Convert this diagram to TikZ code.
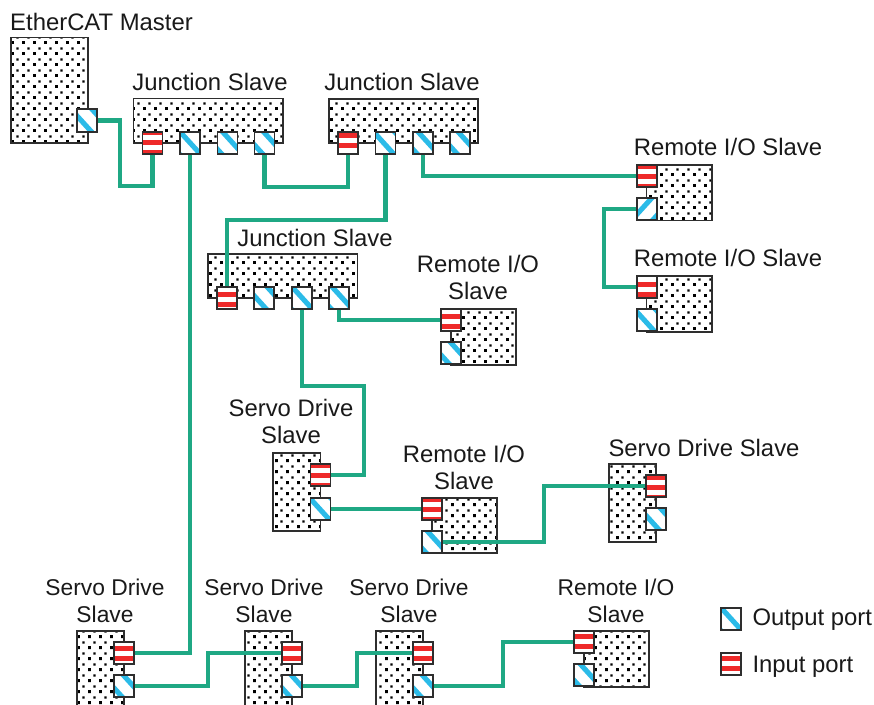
\documentclass[tikz,border=0pt]{standalone}
\usepackage{fontspec}
\setmainfont{Liberation Sans}
\usetikzlibrary{patterns,calc}
\definecolor{wirec}{HTML}{1FA884}
\definecolor{edgec}{HTML}{2E2E2E}
\definecolor{portred}{HTML}{EE2A2A}
\definecolor{portblue}{HTML}{2BBBE8}
\pgfdeclarepatternformonly{sdots}{\pgfqpoint{-1pt}{-1pt}}{\pgfqpoint{9pt}{9pt}}{\pgfqpoint{8.25pt}{8.25pt}}{%
  \pgfpathrectangle{\pgfqpoint{0pt}{0pt}}{\pgfqpoint{2.1pt}{2.1pt}}%
  \pgfpathrectangle{\pgfqpoint{4.1pt}{4.1pt}}{\pgfqpoint{1.6pt}{1.6pt}}%
  \pgfusepath{fill}}
\tikzset{
  bodybox/.style 2 args={draw=edgec,line width=1.2pt,pattern=sdots,inner sep=0pt,outer sep=0pt,
    minimum width=#1*0.75pt,minimum height=#2*0.75pt},
  portbase/.style={draw=edgec,fill=white,line width=1.3pt,inner sep=0pt,outer sep=0pt,
    minimum width=15pt,minimum height=16.9pt},
  inport/.style={portbase,path picture={
    \foreach \k in {-1,0,1,2,3}{
      \fill[portred] ($(path picture bounding box.north west)+(0,{#1+10*\k-2.5})$) rectangle
        ($(path picture bounding box.north west)+(20,{#1+10*\k+2.5})$);}}},
  outport/.style={portbase,path picture={
    \foreach \k in {-1,0,1}{
      \draw[portblue,line width=3.8pt] ($(path picture bounding box.north west)+({#1+21*\k-10},-11)$) --
        ($(path picture bounding box.north west)+({#1+21*\k+30},33)$);}}},
  outflip/.style={portbase,path picture={
    \foreach \k in {-1,0,1}{
      \draw[portblue,line width=3.8pt] ($(path picture bounding box.north east)+({-(#1+21*\k-10)},-11)$) --
        ($(path picture bounding box.north east)+({-(#1+21*\k+30)},33)$);}}},
  wire/.style={draw=wirec,line width=3.3pt},
  lab/.style={inner sep=0pt,outer sep=0pt,align=center,font=\fontsize{17.9}{20.2}\selectfont,text=black!90},
  labsmall/.style={lab,font=\fontsize{17.1}{20.2}\selectfont}
}
\begin{document}
\begin{tikzpicture}[x=0.75pt,y=-0.75pt]
\useasboundingbox (0,0) rectangle (874,704);
\clip (0,0) rectangle (874,704);
% bodies
\node[bodybox={77}{105.5}] (m) at (49.5,90.25) {};
\node[bodybox={149.5}{44.5}] (j1) at (208.25,120.75) {};
\node[bodybox={149.5}{44.5}] (j2) at (403.5,121) {};
\node[bodybox={149.5}{44.5}] (j3) at (282.75,276) {};
\node[bodybox={65.5}{55.5}] (r1) at (679.25,192.75) {};
\node[bodybox={65.5}{56}] (r2) at (679.25,304) {};
\node[bodybox={65}{56}] (r3) at (483.5,337) {};
\node[bodybox={65}{55}] (r4) at (464.5,525.5) {};
\node[bodybox={47.5}{78}] (s1) at (296.75,492) {};
\node[bodybox={47}{78}] (s2) at (632.5,503) {};
\node[bodybox={47}{89}] (sa) at (100.5,675.5) {};
\node[bodybox={47}{89}] (sb) at (268.5,675.5) {};
\node[bodybox={47}{89}] (sc) at (399.5,675.5) {};
\node[bodybox={65}{56}] (r5) at (616.5,659) {};
% port anchors for wires (ports drawn afterwards)
\coordinate (mo) at (87,120.5);
\path
  (152.5,143) coordinate (j1i) (190,143) coordinate (j1a) (264.5,143) coordinate (j1c)
  (348,143) coordinate (j2i) (385.5,143) coordinate (j2a) (423,143) coordinate (j2b)
  (227,298) coordinate (j3i) (302,298) coordinate (j3b) (339,298) coordinate (j3c)
  (647,176) coordinate (r1i) (647,209) coordinate (r1o) (647,287) coordinate (r2i)
  (451,320) coordinate (r3i) (320.5,475) coordinate (s1i) (320.5,509) coordinate (s1o)
  (432,509) coordinate (r4i) (432,542) coordinate (r4o) (656,486) coordinate (s2i)
  (124,653) coordinate (sai) (124,686) coordinate (sao) (292,653) coordinate (sbi)
  (292,686) coordinate (sbo) (423,653) coordinate (sci) (423,686) coordinate (sco)
  (584,642) coordinate (r5i);
% wires
\draw[wire] (mo) -| (120,186) -| (j1i);
\draw[wire] (j1a) |- (sai);
\draw[wire] (j1c) |- (348,187) -- (j2i);
\draw[wire] (j2a) |- (227,220) -- (j3i);
\draw[wire] (j2b) |- (r1i);
\draw[wire] (r1o) -| (604,287) -- (r2i);
\draw[wire] (j3c) |- (r3i);
\draw[wire] (j3b) |- (364,386) |- (s1i);
\draw[wire] (s1o) -- (r4i);
\draw[wire] (r4o) -| (544,486) -- (s2i);
\draw[wire] (sao) -| (208,653) -- (sbi);
\draw[wire] (sbo) -| (357,653) -- (sci);
\draw[wire] (sco) -| (503,642) -- (r5i);
% ports
\node[outport=-6] (pmo) at (mo) {};
\node[inport=1] (pj1i) at (j1i) {};
\node[outport=0] (pj1a) at (j1a) {};
\node[outport=5] (pj1b) at (227.5,143) {};
\node[outport=9] (pj1c) at (j1c) {};
\node[inport=4] (pj2i) at (j2i) {};
\node[outport=-2] (pj2a) at (j2a) {};
\node[outport=5] (pj2b) at (j2b) {};
\node[outport=8] (pj2c) at (460,143) {};
\node[inport=-2] (pj3i) at (j3i) {};
\node[outport=-8] (pj3a) at (264,298) {};
\node[outport=0] (pj3b) at (j3b) {};
\node[outport=3] (pj3c) at (j3c) {};
\node[inport=2] (pr1i) at (r1i) {};
\node[outflip=5] (pr1o) at (r1o) {};
\node[inport=9] (pr2i) at (r2i) {};
\node[outport=-3] (pr2o) at (647,320) {};
\node[inport=7.5] (pr3i) at (r3i) {};
\node[outport=9] (pr3o) at (451,353) {};
\node[inport=2] (ps1i) at (s1i) {};
\node[outport=-1] (ps1o) at (s1o) {};
\node[inport=2] (pr4i) at (r4i) {};
\node[outport=5] (pr4o) at (r4o) {};
\node[inport=3] (ps2i) at (s2i) {};
\node[outport=-7] (ps2o) at (656,519) {};
\node[inport=6.5] (psai) at (sai) {};
\node[outport=9] (psao) at (sao) {};
\node[inport=6.5] (psbi) at (sbi) {};
\node[outport=9] (psbo) at (sbo) {};
\node[inport=6.5] (psci) at (sci) {};
\node[outport=9] (psco) at (sco) {};
\node[inport=6] (pr5i) at (r5i) {};
\node[outport=6] (pr5o) at (584,675) {};
\node[outport=0] (lego) at (731,619) {};
\node[inport=6] (legi) at (731,664) {};
% labels
\node[lab] (t0) at (101.5,22) {EtherCAT Master};
\node[lab] (t1) at (210,82) {Junction Slave};
\node[lab] (t2) at (402,82) {Junction Slave};
\node[lab] (t3) at (315,238) {Junction Slave};
\node[lab] (t4) at (728,147) {Remote I/O Slave};
\node[lab] (t5) at (728,258) {Remote I/O Slave};
\node[lab] (t6) at (478,277.5) {Remote I/O\\Slave};
\node[lab] (t7) at (291,421.5) {Servo Drive\\Slave};
\node[lab] (t8) at (464,467.5) {Remote I/O\\Slave};
\node[lab] (t9) at (704,448) {Servo Drive Slave};
\node[labsmall] (t10) at (105,600.5) {Servo Drive\\Slave};
\node[labsmall] (t11) at (264,600.5) {Servo Drive\\Slave};
\node[labsmall] (t12) at (409,600.5) {Servo Drive\\Slave};
\node[labsmall] (t13) at (616,600.5) {Remote I/O\\Slave};
\node[lab,anchor=west] (t14) at (752.5,620) {Output port};
\node[lab,anchor=west] (t15) at (752.5,667) {Input port};
\end{tikzpicture}
\end{document}
